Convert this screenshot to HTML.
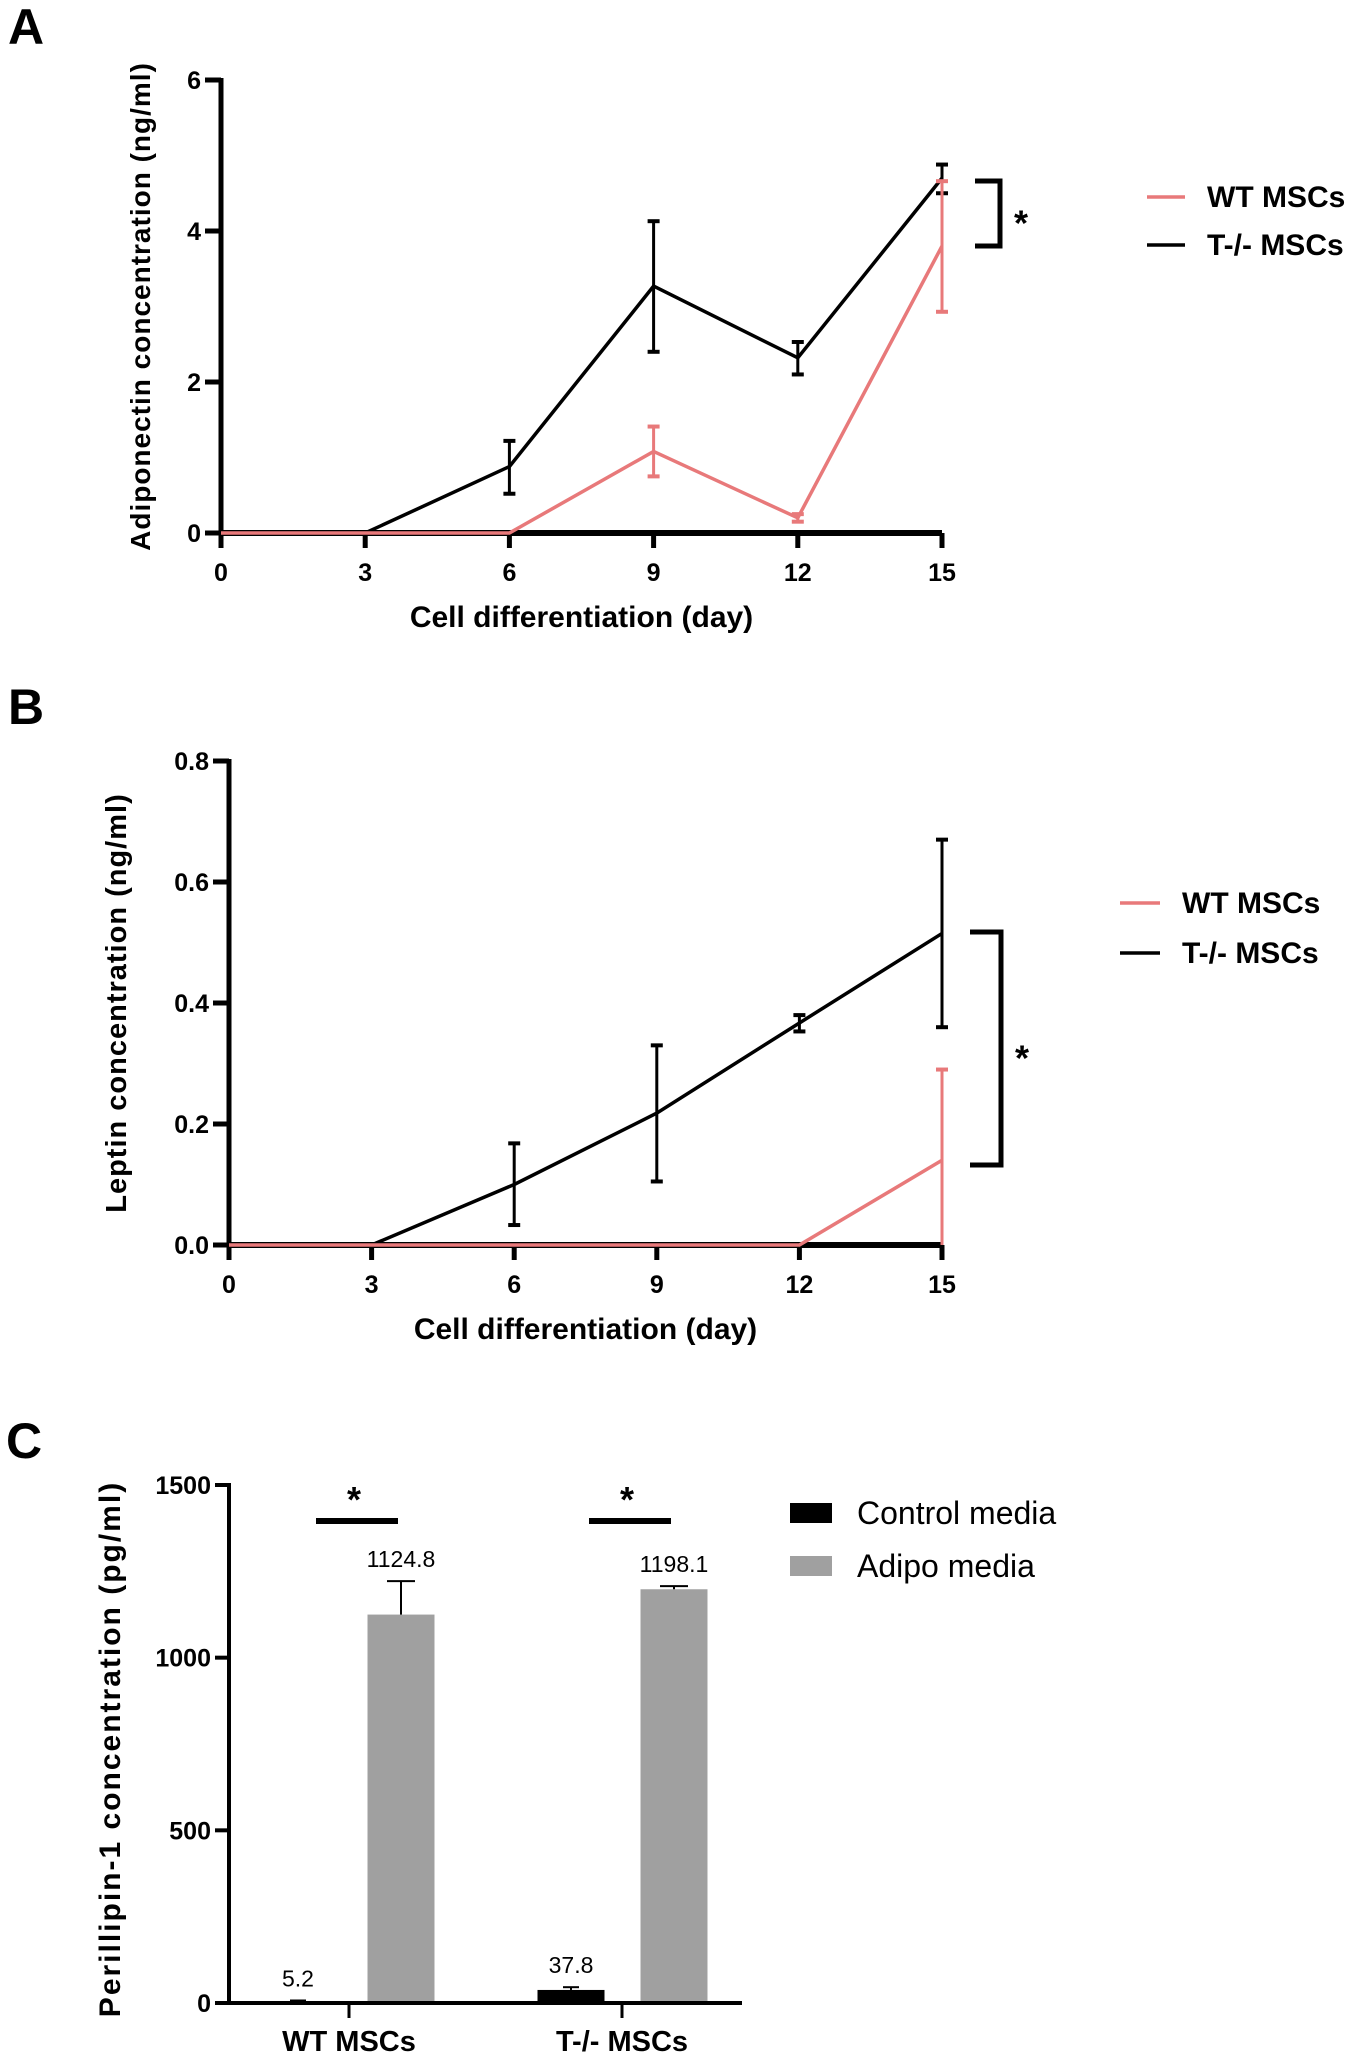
<!DOCTYPE html>
<html><head><meta charset="utf-8"><style>
html,body{margin:0;padding:0;background:#fff}
svg{display:block}
text{font-family:"Liberation Sans",Arial,sans-serif}
</style></head><body>
<svg id="fig" width="1350" height="2053" viewBox="0 0 1350 2053"></svg>
<script>
// Panel A data
const daysA = [0, 3, 6, 9, 12, 15];
const koA = [0, 0, 0.88, 3.27, 2.32, 4.7];
const koAlo = [0, 0, 0.52, 2.4, 2.1, 4.5];
const koAhi = [0, 0, 1.22, 4.13, 2.53, 4.88];
const wtA = [0, 0, 0, 1.08, 0.2, 3.8];
const wtAlo = [0, 0, 0, 0.75, 0.15, 2.93];
const wtAhi = [0, 0, 0, 1.41, 0.25, 4.66];
const yTicksA = [0, 2, 4, 6];
// Panel B data
const daysB = [0, 3, 6, 9, 12, 15];
const koB = [0, 0, 0.1, 0.218, 0.367, 0.515];
const koBlo = [0, 0, 0.033, 0.105, 0.353, 0.36];
const koBhi = [0, 0, 0.168, 0.33, 0.38, 0.67];
const wtB = [0, 0, 0, 0, 0, 0.14];
const wtBlo = [0, 0, 0, 0, 0, 0];
const wtBhi = [0, 0, 0, 0, 0, 0.29];
const yTicksB = ["0.0", "0.2", "0.4", "0.6", "0.8"];
// Panel C data
const groupsC = ["WT MSCs", "T-/- MSCs"];
const controlC = [5.2, 37.8];
const controlCerr = [2, 8];
const adipoC = [1124.8, 1198.1];
const adipoCerr = [97, 9];
const yTicksC = [0, 500, 1000, 1500];

const NS = "http://www.w3.org/2000/svg";
const svg = document.getElementById('fig');
function el(tag, attrs, parent, txt) {
  const e = document.createElementNS(NS, tag);
  for (const k in attrs) e.setAttribute(k, attrs[k]);
  if (txt !== undefined) e.textContent = txt;
  (parent || svg).appendChild(e);
  return e;
}
const PINK = "#e8797a";

function linePanel(cfg) {
  const g = el('g', {});
  
  
  const X = d => cfg.x0 + (d - 0) / 15 * (cfg.x1 - cfg.x0);
  const Y = v => cfg.y0 - v / cfg.ymax * (cfg.y0 - cfg.y1);
  const L = el('text', {x: 8, y: cfg.letterY, 'font-size': 50, 'font-weight': 'bold'}, g, cfg.letter);
  
  
  const ya = el('line', {x1: cfg.x0, y1: cfg.y1 - 2, x2: cfg.x0, y2: cfg.y0 + 15, stroke: '#000', 'stroke-width': 5}, g);
  
  
  cfg.yt.forEach(t => {
    const v = parseFloat(t);
    el('line', {x1: cfg.x0 - 16, y1: Y(v), x2: cfg.x0, y2: Y(v), stroke: '#000', 'stroke-width': 5}, g);
    const tl = el('text', {x: cfg.x0 - 20, y: Y(v) + 9, 'font-size': 25, 'font-weight': 'bold', 'text-anchor': 'end'}, g, t);
    
    
  });
  const xa = el('line', {x1: cfg.x0, y1: cfg.y0, x2: cfg.x1, y2: cfg.y0, stroke: '#000', 'stroke-width': 6}, g);
  
  
  cfg.days.forEach(d => {
    el('line', {x1: X(d), y1: cfg.y0, x2: X(d), y2: cfg.y0 + 15, stroke: '#000', 'stroke-width': 5}, g);
    const tl = el('text', {x: X(d), y: cfg.y0 + 48, 'font-size': 25, 'font-weight': 'bold', 'text-anchor': 'middle'}, g, d);
    
    
  });
  const xt = el('text', {x: (cfg.x0 + cfg.x1) / 2, y: cfg.y0 + 94, 'font-size': 30, 'font-weight': 'bold', 'text-anchor': 'middle'}, g, 'Cell differentiation (day)');
  
  
  const cy = (cfg.y0 + cfg.y1) / 2;
  const yt = el('text', {x: cfg.ytx, y: cy, 'font-size': cfg.ytfs, 'font-weight': 'bold', 'letter-spacing': 1, 'text-anchor': 'middle', transform: `rotate(-90 ${cfg.ytx} ${cy})`}, g, cfg.ytitle);
  
  
  function series(vals, lo, hi, color, name) {
    const pts = cfg.days.map((d, i) => X(d) + ',' + Y(vals[i])).join(' ');
    const p = el('polyline', {points: pts, fill: 'none', stroke: color, 'stroke-width': 3.5}, g);
    
    
    cfg.days.forEach((d, i) => {
      if (hi[i] - lo[i] <= 0) return;
      const eb = el('g', {stroke: color, 'stroke-width': 3}, g);
      
      
      el('line', {x1: X(d), y1: Y(lo[i]), x2: X(d), y2: Y(hi[i])}, eb);
      el('line', {x1: X(d) - 6, y1: Y(hi[i]), x2: X(d) + 6, y2: Y(hi[i]), 'stroke-width': 4}, eb);
      if (lo[i] > 0) el('line', {x1: X(d) - 6, y1: Y(lo[i]), x2: X(d) + 6, y2: Y(lo[i]), 'stroke-width': 4}, eb);
    });
  }
  series(cfg.ko, cfg.kolo, cfg.kohi, '#000', 'ko-msc');
  series(cfg.wt, cfg.wtlo, cfg.wthi, PINK, 'wt-msc');
  const b = cfg.br;
  const br = el('polyline', {points: `${b.x0},${b.ya} ${b.x1},${b.ya} ${b.x1},${b.yb} ${b.x0},${b.yb}`, fill: 'none', stroke: '#000', 'stroke-width': 5}, g);
  
  
  const st = el('text', {x: b.x1 + 14, y: (b.ya + b.yb) / 2 + 22, 'font-size': 36, 'font-weight': 'bold'}, g, '*');
  
  
  const lg = cfg.lg;
  [['WT MSCs', PINK, lg.y1], ['T-/- MSCs', '#000', lg.y2]].forEach(([t, c, y]) => {
    const e = el('g', {}, g);
    
    
    el('line', {x1: lg.lx0, y1: y - 10, x2: lg.lx1, y2: y - 10, stroke: c, 'stroke-width': 3.5}, e);
    el('text', {x: lg.tx, y: y, 'font-size': 30, 'font-weight': 'bold'}, e, t);
  });
}

linePanel({name: 'panel-a-adiponectin', letter: 'A', letterY: 44, x0: 221, x1: 942, y0: 533, y1: 80, ymax: 6,
  yt: yTicksA.map(String), days: daysA, ko: koA, kolo: koAlo, kohi: koAhi, wt: wtA, wtlo: wtAlo, wthi: wtAhi,
  ytx: 150, ytfs: 28, ytitle: 'Adiponectin concentration (ng/ml)',
  br: {x0: 975, x1: 1000, ya: 181, yb: 246}, lg: {lx0: 1147, lx1: 1185, tx: 1207, y1: 207, y2: 255}});

linePanel({name: 'panel-b-leptin', letter: 'B', letterY: 724, x0: 229, x1: 942, y0: 1245, y1: 761, ymax: 0.8,
  yt: yTicksB, days: daysB, ko: koB, kolo: koBlo, kohi: koBhi, wt: wtB, wtlo: wtBlo, wthi: wtBhi,
  ytx: 126, ytfs: 29, ytitle: 'Leptin concentration (ng/ml)',
  br: {x0: 970, x1: 1001, ya: 932, yb: 1165}, lg: {lx0: 1120, lx1: 1160, tx: 1182, y1: 913, y2: 963}});

(function () {
  const g = el('g', {});
  
  
  const x0 = 229, x1 = 742, y0 = 2003, y1 = 1485, ymax = 1500;
  const Y = v => y0 - v / ymax * (y0 - y1);
  const centers = [349, 622];
  const L = el('text', {x: 6, y: 1458, 'font-size': 50, 'font-weight': 'bold'}, g, 'C');
  
  
  const ya = el('line', {x1: x0, y1: y1 - 2, x2: x0, y2: y0 + 2, stroke: '#000', 'stroke-width': 4}, g);
  
  
  yTicksC.forEach(v => {
    el('line', {x1: x0 - 14, y1: Y(v), x2: x0, y2: Y(v), stroke: '#000', 'stroke-width': 4}, g);
    const t = el('text', {x: x0 - 18, y: Y(v) + 9, 'font-size': 25, 'font-weight': 'bold', 'text-anchor': 'end'}, g, v);
    
    
  });
  const cy = (y0 + y1) / 2 + 5;
  const yt = el('text', {x: 120, y: cy, 'font-size': 30, 'font-weight': 'bold', 'letter-spacing': 2, 'text-anchor': 'middle', transform: `rotate(-90 120 ${cy})`}, g, 'Perillipin-1 concentration (pg/ml)');
  
  
  const bw = 67;
  groupsC.forEach((name, i) => {
    const c = centers[i];
    const cx = c - 51, ax = c + 52;
    const b1 = el('rect', {x: cx - bw / 2, y: Y(controlC[i]), width: bw, height: y0 - Y(controlC[i]), fill: '#000'}, g);
    
    
    el('line', {x1: cx, y1: Y(controlC[i]), x2: cx, y2: Y(controlC[i] + controlCerr[i]), stroke: '#000', 'stroke-width': 2}, g);
    el('line', {x1: cx - 8, y1: Y(controlC[i] + controlCerr[i]), x2: cx + 8, y2: Y(controlC[i] + controlCerr[i]), stroke: '#000', 'stroke-width': 2}, g);
    const b2 = el('rect', {x: ax - bw / 2, y: Y(adipoC[i]), width: bw, height: y0 - Y(adipoC[i]), fill: '#a0a0a0'}, g);
    
    
    el('line', {x1: ax, y1: Y(adipoC[i]), x2: ax, y2: Y(adipoC[i] + adipoCerr[i]), stroke: '#000', 'stroke-width': 2}, g);
    el('line', {x1: ax - 14, y1: Y(adipoC[i] + adipoCerr[i]), x2: ax + 14, y2: Y(adipoC[i] + adipoCerr[i]), stroke: '#000', 'stroke-width': 2}, g);
    const v1 = el('text', {x: cx, y: Y(controlC[i] + controlCerr[i]) - 14, 'font-size': 23, 'text-anchor': 'middle'}, g, controlC[i].toFixed(1));
    
    
    const v2 = el('text', {x: ax, y: Y(adipoC[i] + adipoCerr[i]) - 14, 'font-size': 23, 'text-anchor': 'middle'}, g, adipoC[i].toFixed(1));
    
    
    const sl = el('line', {x1: c - 33, y1: 1521, x2: c + 49, y2: 1521, stroke: '#000', 'stroke-width': 6}, g);
    
    
    const st = el('text', {x: c + 5, y: 1512, 'font-size': 36, 'font-weight': 'bold', 'text-anchor': 'middle'}, g, '*');
    
    
    el('line', {x1: c, y1: y0, x2: c, y2: 2018, stroke: '#000', 'stroke-width': 3}, g);
    const cl = el('text', {x: c, y: 2051, 'font-size': 29, 'font-weight': 'bold', 'text-anchor': 'middle'}, g, name);
    
    
  });
  const xa = el('line', {x1: x0, y1: y0, x2: x1, y2: y0, stroke: '#000', 'stroke-width': 4}, g);
  
  
  [['Control media', '#000', 1513], ['Adipo media', '#a0a0a0', 1566]].forEach(([t, c, y]) => {
    const e = el('g', {}, g);
    
    
    el('rect', {x: 790, y: y - 10, width: 42, height: 20, fill: c}, e);
    el('text', {x: 857, y: y + 11, 'font-size': 32}, e, t);
  });
})();
</script>
</body></html>
